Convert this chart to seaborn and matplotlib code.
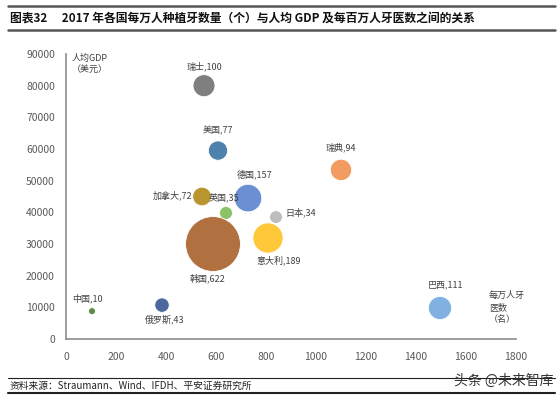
import numpy as np
import pandas as pd
import seaborn as sns
import matplotlib
matplotlib.use('Agg')
import matplotlib.pyplot as plt

# 数据：每百万人牙医数, 人均GDP, 每万人种植牙数量
countries = ['瑞士', '美国', '德国', '加拿大', '英国', '日本', '韩国', '意大利', '瑞典', '巴西', '中国', '俄罗斯']
dentists = [552, 608, 728, 544, 640, 840, 588, 808, 1100, 1496, 104, 384]
gdp = [80000, 59500, 44500, 45000, 39800, 38500, 30000, 31900, 53400, 9800, 8800, 10700]
implants = [100, 77, 157, 72, 35, 34, 622, 189, 94, 111, 10, 43]

colors = ['#7f7f7f', '#4f81ad', '#6a8fd2', '#b8952f', '#8cc268', '#bdbdbd',
          '#b0703f', '#ffc83a', '#f29c62', '#80b1e0', '#5f8b48', '#4c689c']
# label offsets (points) and alignment
label_pos = [(0, 14, 'center'), (0, 14, 'center'), (5, 17, 'center'), (-7, 1, 'right'),
             (-1.5, 11, 'center'), (7, 3, 'left'), (-3.6, -25, 'center'), (8, -16, 'center'),
             (0, 16, 'center'), (4, 17, 'center'), (-3, 9, 'center'), (2, -10, 'center')]

df = pd.DataFrame({'country': countries, 'dentists': dentists, 'gdp': gdp, 'implants': implants})

sns.set_style('white')
plt.rcParams['font.family'] = ['Noto Sans CJK SC', 'DejaVu Sans']

fig = plt.figure(figsize=(5.57, 3.98), dpi=100)
ax = fig.add_axes([66/557, 1-339/398, 450/557, 285/398])

k = 2.51  # area in pt^2 per unit
sns.scatterplot(data=df, x='dentists', y='gdp', hue='country', palette=dict(zip(countries, colors)),
                size='implants', sizes=(k*min(implants), k*max(implants)),
                legend=False, alpha=1, edgecolor='white', linewidth=0.6, ax=ax, zorder=3)

for c, x, y, v, (dx, dy, ha) in zip(countries, dentists, gdp, implants, label_pos):
    ax.annotate(f'{c},{v}', (x, y), xytext=(dx, dy), textcoords='offset points',
                ha=ha, va='center', fontsize=6.5, color='#404040', zorder=5)

ax.set_xlim(0, 1800)
ax.set_ylim(0, 90000)
ax.set_xticks(range(0, 1801, 200))
ax.set_yticks(range(0, 90001, 10000))
ax.set_xlabel('')
ax.set_ylabel('')
for s in ['top', 'right']:
    ax.spines[s].set_visible(False)
for s in ['left', 'bottom']:
    ax.spines[s].set_color('#8c8c8c')
    ax.spines[s].set_linewidth(1.2)
ax.tick_params(axis='y', direction='out', length=3, width=1, color='#8c8c8c',
               labelsize=7.5, labelcolor='#595959', pad=5)
ax.tick_params(axis='x', direction='in', length=3, width=1, color='#8c8c8c',
               labelsize=7.5, labelcolor='#595959', pad=9)
ax.set_facecolor('white')

ax.text(0.013, 1.0, '人均GDP\n（美元）', transform=ax.transAxes, fontsize=6.5,
        color='#404040', va='top', ha='left', linespacing=1.3)
ax.text(0.94, 0.11, '每万人牙\n医数\n（名）', transform=ax.transAxes, fontsize=6.5,
        color='#404040', va='center', ha='left', linespacing=1.4)

# header and footer
fig.add_artist(plt.Line2D([8/557, 555/557], [1-6/398, 1-6/398], color='#555555', lw=1.8))
fig.add_artist(plt.Line2D([8/557, 555/557], [1-30/398, 1-30/398], color='#555555', lw=1.8))
fig.text(10/557, 1-18/398, '图表32　 2017 年各国每万人种植牙数量（个）与人均 GDP 及每百万人牙医数之间的关系',
         fontsize=8.5, fontweight='bold', color='#111111', va='center', ha='left')
fig.add_artist(plt.Line2D([8/557, 555/557], [1-378/398, 1-378/398], color='#222222', lw=0.8))
fig.add_artist(plt.Line2D([8/557, 555/557], [1-393/398, 1-393/398], color='#222222', lw=1.5))
fig.text(10/557, 1-386/398, '资料来源：Straumann、Wind、IFDH、平安证券研究所',
         fontsize=7, style='italic', color='#222222', va='center', ha='left')
fig.text(553/557, 1-381/398, '头条 @未来智库', fontsize=10, color='#333333', va='center', ha='right')

fig.savefig('out.png', dpi=100, facecolor='white')
